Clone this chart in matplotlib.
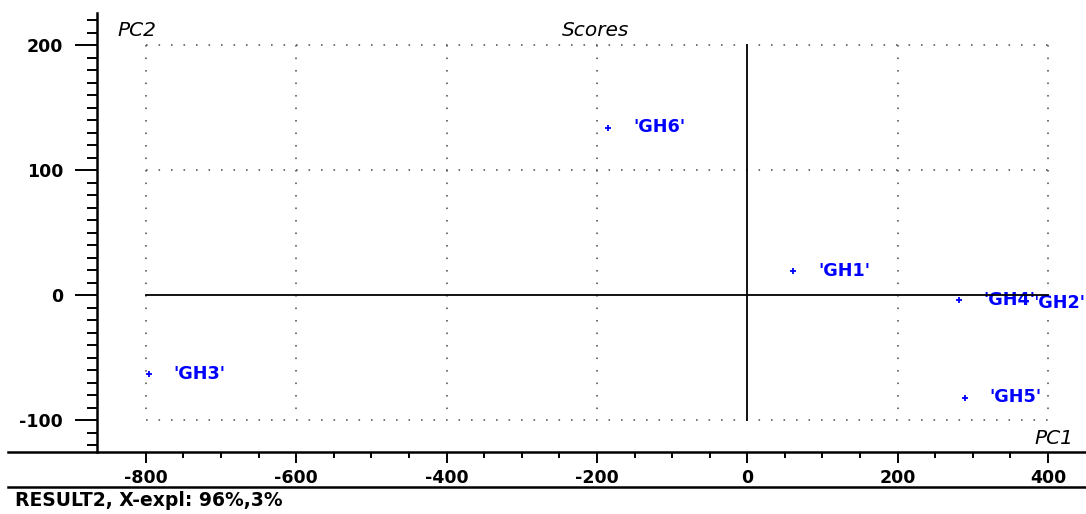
import matplotlib
matplotlib.use("Agg")
import matplotlib.pyplot as plt
from matplotlib.lines import Line2D
import numpy as np

plt.rcParams["axes.unicode_minus"] = False

# PCA scores (PC1, PC2) per sample
samples = ["'GH1'", "'GH2'", "'GH3'", "'GH4'", "'GH5'", "'GH6'"]
pc1 = [61, 347, -796, 281, 289, -185]
pc2 = [19, -6, -63, -4, -82, 134]

x_ticks = [-800, -600, -400, -200, 0, 200, 400]
y_ticks = [-100, 0, 100, 200]
x_grid = [-800, -600, -400, -200, 200, 400]
y_grid = [-100, 100, 200]

W, H = 1086, 514
PX = 72 / 100  # points per pixel

fig = plt.figure(figsize=(W / 100, H / 100), dpi=100)
ax = fig.add_axes([97 / W, 62 / H, (W - 97) / W, (452 - 13) / H])
ax.set_xlim(-865, 450.5)
ax.set_ylim(-125.6, 225.6)

for s in ("top", "right", "bottom"):
    ax.spines[s].set_visible(False)
ax.spines["left"].set_linewidth(1.8)
ax.spines["left"].set_color("black")

blue = "#0000ff"
dot_lw = 1.6 * PX
dots = (0, (1.0, 12.5 * PX / dot_lw - 1.0))  # dash units scale with linewidth

# dotted grid bounded by the data frame
for gx in x_grid:
    ax.plot([gx, gx], [200, -100], color="#555555", lw=dot_lw, ls=dots)
for gy in y_grid:
    ax.plot([-800, 400], [gy, gy], color="#555555", lw=dot_lw, ls=dots)

# zero axes, drawn above the labels
ax.plot([-800, 400], [0, 0], color="black", lw=1.3, zorder=5)
ax.plot([0, 0], [-100, 200], color="black", lw=1.3, zorder=5)

# scores
ax.plot(pc1, pc2, ls="none", marker="+", ms=5, mew=1.3, color=blue, zorder=3)
order = np.argsort(pc1)[::-1]
for i in order:
    ax.annotate(samples[i], (pc1[i], pc2[i]), xytext=(18, 0),
                textcoords="offset points", ha="left", va="center",
                color=blue, fontsize=12.7, fontweight="bold",
                family="DejaVu Sans", zorder=4,
                bbox=dict(boxstyle="square,pad=0.05", fc="white", ec="none"))

# ticks
ax.xaxis.set_ticks_position("bottom")
ax.set_xticks(x_ticks)
ax.set_xticks(np.arange(-800, 401, 50), minor=True)
ax.set_yticks(y_ticks)
ax.set_yticks(np.arange(-120, 221, 10), minor=True)
ax.tick_params(axis="x", which="major", direction="out", length=11 * PX,
               width=1.4, pad=6 * PX, labelsize=12.5)
ax.tick_params(axis="x", which="minor", direction="out", length=6 * PX,
               width=1.4)
ax.tick_params(axis="y", which="major", direction="out", length=22 * PX,
               width=1.4, pad=12 * PX, labelsize=12.5)
ax.tick_params(axis="y", which="minor", direction="out", length=10 * PX,
               width=1.4)
for lab in ax.get_xticklabels() + ax.get_yticklabels():
    lab.set_fontweight("bold")
    lab.set_family("DejaVu Sans")

# x axis line and bottom separator across the figure
fig.add_artist(Line2D([8 / W, 1], [1 - 452 / H] * 2, color="black", lw=1.8))
fig.add_artist(Line2D([8 / W, 1], [1 - 487 / H] * 2, color="black", lw=1.8))

# titles
fig.text(117 / W, 1 - 30 / H, "PC2", fontsize=14.5, style="italic",
         ha="left", va="center")
fig.text(596 / W, 1 - 30 / H, "Scores", fontsize=14.5, style="italic",
         ha="center", va="center")
fig.text(1073 / W, 1 - 438 / H, "PC1", fontsize=14.5, style="italic",
         ha="right", va="center")
fig.text(15 / W, 1 - 501 / H, "RESULT2, X-expl: 96%,3%", fontsize=13.5,
         fontweight="bold", ha="left", va="center")

fig.savefig("out.png", dpi=100)
